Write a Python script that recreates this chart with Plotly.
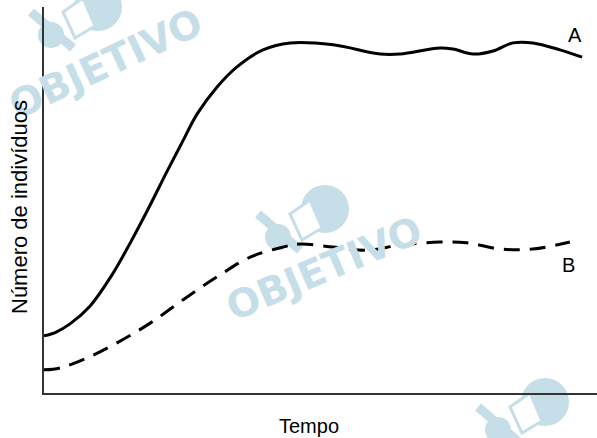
import plotly.graph_objects as go

# Curve A (solid) - time vs. number of individuals (arbitrary units)
tempo_a = [0, 2.2, 4.7, 8.3, 12.3, 15.6, 19.2, 22.2, 25.0, 27.7, 31.3, 34.9, 39.6, 44.5, 52.3,
           60.8, 64.4, 71.6, 74.0, 77.6, 81.2, 84.8, 88.4, 93.3, 97.3]
individuos_a = [14.8, 15.8, 17.9, 22.5, 30.6, 38.9, 48.7, 57.3, 65.0, 72.3, 79.3, 84.5, 88.9, 90.7,
                90.2, 87.8, 87.8, 89.4, 89.1, 87.8, 88.6, 90.7, 90.7, 88.9, 87.0]

# Curve B (dashed)
tempo_b = [0, 2.9, 7.8, 13.2, 19.2, 25.1, 31.3, 37.3, 43.2, 46.3, 52.3, 58.4, 64.4,
           71.6, 76.5, 82.5, 88.4, 95.1]
individuos_b = [6.0, 6.5, 9.1, 13.0, 18.1, 24.1, 30.1, 35.2, 37.8, 38.6, 37.8, 37.0, 38.3,
                39.1, 38.9, 37.3, 37.3, 39.1]

labels = ["A", "B"]
label_pos_x = [96.0, 94.9]
label_pos_y = [92.7, 33.2]

W, H = 597, 438
ML, MR, MT, MB = 44, 0, 7, 45
PW, PH = W - ML - MR, H - MT - MB


def px(x, y):
    return (x - ML) / PW, (H - MB - y) / PH


WM = "rgb(198,222,232)"
FONT = "Liberation Sans, Arial, sans-serif"

fig = go.Figure()
fig.add_trace(go.Scatter(x=tempo_a, y=individuos_a, mode="lines", name="A",
                         line=dict(color="black", width=3, shape="spline", smoothing=1.0)))
fig.add_trace(go.Scatter(x=tempo_b, y=individuos_b, mode="lines", name="B",
                         line=dict(color="black", width=3, dash="16px,10px",
                                   shape="spline", smoothing=1.0)))

annotations = []
for t, xv, yv in zip(labels, label_pos_x, label_pos_y):
    annotations.append(dict(x=xv, y=yv, xref="x", yref="y", text=t, showarrow=False,
                            xanchor="center", yanchor="middle",
                            font=dict(family=FONT, size=20, color="black")))

# watermark text
for (cx, cy, ang) in [(106, 64, -25), (324, 268, -23)]:
    xp, yp = px(cx, cy)
    annotations.append(dict(x=xp, y=yp, xref="paper", yref="paper", text="<b>OBJETIVO</b>",
                            showarrow=False, textangle=ang, xanchor="center", yanchor="middle",
                            font=dict(family="DejaVu Sans, sans-serif", size=39, color=WM)))

# axis titles
xp, yp = px(309, 426)
annotations.append(dict(x=xp, y=yp, xref="paper", yref="paper", text="Tempo", showarrow=False,
                        xanchor="center", yanchor="middle",
                        font=dict(family=FONT, size=20, color="black")))
xp, yp = px(19, 207)
annotations.append(dict(x=xp, y=yp, xref="paper", yref="paper", text="Número de indivíduos",
                        showarrow=False, textangle=-90, xanchor="center", yanchor="middle",
                        font=dict(family=FONT, size=22, color="black")))

# watermark logos
shapes = []


def disc(cx, cy, r, col):
    x0, y0 = px(cx - r, cy + r)
    x1, y1 = px(cx + r, cy - r)
    return dict(type="circle", xref="paper", yref="paper", x0=x0, y0=y0, x1=x1, y1=y1,
                fillcolor=col, line=dict(width=0), layer="below")


def poly(pts, col, lw=0, lc=None):
    d = ""
    for i, (x, y) in enumerate(pts):
        a, b = px(x, y)
        d += ("M" if i == 0 else "L") + f"{a:.5f},{b:.5f}"
    d += "Z"
    return dict(type="path", xref="paper", yref="paper", path=d, fillcolor=col,
                line=dict(width=lw, color=lc or col), layer="below")


def seg(x0, y0, x1, y1, w):
    a0, b0 = px(x0, y0)
    a1, b1 = px(x1, y1)
    return dict(type="line", xref="paper", yref="paper", x0=a0, y0=b0, x1=a1, y1=b1,
                line=dict(width=w, color=WM), layer="below")


for (ox, oy) in [(-227, -202), (0, 0), (220, 193)]:
    shapes.append(seg(258 + ox, 214 + oy, 300 + ox, 250 + oy, 9))
    shapes.append(disc(325 + ox, 209 + oy, 24, WM))
    sq = [(290, 214), (310, 200), (322, 228), (302, 240)]
    shapes.append(poly([(x + ox, y + oy) for x, y in sq], "white", 3, WM))
    shapes.append(disc(306 + ox, 220 + oy, 9, "white"))
    shapes.append(disc(278 + ox, 237 + oy, 13, WM))

fig.update_layout(
    width=W, height=H,
    margin=dict(l=ML, r=MR, t=MT, b=MB),
    paper_bgcolor="white", plot_bgcolor="rgba(0,0,0,0)",
    showlegend=False,
    annotations=annotations,
    shapes=shapes,
    xaxis=dict(range=[0, 100], showgrid=False, zeroline=False, showticklabels=False,
               ticks="", showline=True, linecolor="#333", linewidth=1.5),
    yaxis=dict(range=[0, 100], showgrid=False, zeroline=False, showticklabels=False,
               ticks="", showline=True, linecolor="#333", linewidth=1.5),
)

fig.write_html("out.html", config={"displayModeBar": False},
               post_script="document.body.style.margin='0';document.body.style.overflow='hidden';")
